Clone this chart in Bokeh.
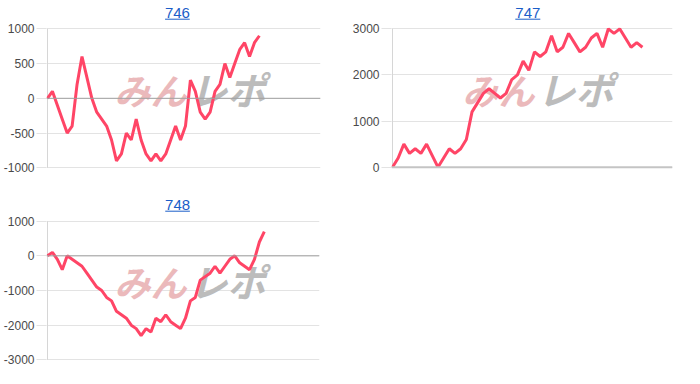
from bokeh.plotting import figure
from bokeh.models import Label, FixedTicker, Range1d, Span
from bokeh.layouts import row, column
from bokeh.embed import file_html
from bokeh.resources import INLINE

# Machine numbers and their running difference series
titles = ["746", "747", "748"]

diff_746 = [0, 100, -100, -300, -500, -400, 200, 600, 300, 0,
            -200, -300, -400, -600, -900, -800, -500, -600, -300, -600,
            -800, -900, -800, -900, -800, -600, -400, -600, -400, 260,
            100, -200, -300, -200, 100, 200, 500, 300, 500, 700,
            800, 600, 800, 900]

diff_747 = [0, 200, 500, 300, 400, 300, 500, 250, 0, 200,
            400, 300, 400, 600, 1200, 1400, 1600, 1700, 1600, 1500,
            1600, 1900, 2000, 2300, 2100, 2500, 2400, 2500, 2850, 2500,
            2600, 2900, 2700, 2500, 2600, 2800, 2900, 2600, 3000, 2900,
            3000, 2800, 2600, 2700, 2600]

diff_748 = [0, 100, -100, -400, 0, -100, -200, -300, -500, -700,
            -900, -1000, -1200, -1300, -1600, -1700, -1800, -2000, -2100, -2300,
            -2100, -2200, -1800, -1900, -1700, -1900, -2000, -2100, -1800, -1300,
            -1200, -700, -600, -500, -300, -500, -300, -100, 0, -200,
            -300, -400, -100, 400, 700]

ticks_746 = [-1000, -500, 0, 500, 1000]
ticks_747 = [0, 1000, 2000, 3000]
ticks_748 = [-3000, -2000, -1000, 0, 1000]

LINE_COLOR = "#ff4566"
LINK_COLOR = "#1a5dc8"
GRID_COLOR = "#e3e3e3"


def make_chart(title, values, ticks, W, H, x0_px, right_px, step_px,
               top_px, bottom_px, title_cx, wm_split, zero_line):
    """One small line chart. Pixel arguments are measured inside the cell."""
    y0, y1 = ticks[0], ticks[-1]
    upp = (y1 - y0) / (bottom_px - top_px)        # data units per pixel

    def X(px):
        return (px - x0_px) / step_px

    def Y(py):
        return y1 - (py - top_px) * upp

    left = int(x0_px - 1)
    right = int(W - right_px)
    bottom = int(round(H - bottom_px - 2))

    p = figure(width=W, height=H, output_backend="svg",
               toolbar_location=None,
               x_range=Range1d(X(left), X(W - right)),
               y_range=Range1d(Y(H - bottom), Y(0)),
               min_border_left=left, min_border_right=right,
               min_border_top=0, min_border_bottom=bottom,
               outline_line_color=None,
               background_fill_color="white", border_fill_color="white")

    p.xaxis.visible = False
    p.xgrid.visible = False

    ax = p.yaxis[0]
    ax.ticker = FixedTicker(ticks=ticks)
    ax.major_label_overrides = {t: str(t) for t in ticks}
    ax.axis_line_color = None
    ax.major_tick_out = 10
    ax.major_tick_in = 0
    ax.major_tick_line_color = GRID_COLOR
    ax.minor_tick_line_color = None
    ax.major_label_standoff = 2
    ax.major_label_text_font = "Liberation Sans"
    ax.major_label_text_font_size = "12px"
    ax.major_label_text_color = "#4a4a4a"

    p.ygrid.ticker = FixedTicker(ticks=ticks)
    p.ygrid.grid_line_color = GRID_COLOR
    p.ygrid.grid_line_width = 1

    # vertical axis line across the plotting band only
    p.segment(x0=[0], y0=[y0], x1=[0], y1=[y1], line_color="#d6d6d6",
              line_width=1)

    if zero_line:
        p.add_layout(Span(location=0, dimension="width",
                          line_color="#a0a0a0", line_width=1))
    else:
        p.add_layout(Span(location=y0, dimension="width",
                          line_color="#c4c4c4", line_width=2))

    # watermark behind the line
    p.add_layout(Label(x=X(wm_split - 1), y=Y(88), text="みん",
                       text_align="right", text_baseline="middle",
                       text_font="Noto Sans CJK JP",
                       text_font_style="bold italic", text_font_size="36px",
                       text_color="#ebb9bb", level="underlay"))
    p.add_layout(Label(x=X(wm_split + 2), y=Y(88), text="レポ",
                       text_align="left", text_baseline="middle",
                       text_font="Noto Sans CJK JP",
                       text_font_style="bold italic", text_font_size="38px",
                       text_color="#bcbcbc", level="underlay"))

    xs = list(range(len(values)))
    p.line(xs, values, line_color=LINE_COLOR, line_width=3)

    # linked title with underline
    p.add_layout(Label(x=X(title_cx), y=Y(12.0), text=title,
                       text_align="center", text_baseline="middle",
                       text_font="Liberation Sans", text_font_size="15px",
                       text_color=LINK_COLOR))
    p.segment(x0=[X(title_cx - 12.5)], y0=[Y(18.7)],
              x1=[X(title_cx + 12.5)], y1=[Y(18.7)],
              line_color=LINK_COLOR, line_width=1)
    return p


p1 = make_chart(titles[0], diff_746, ticks_746, 348, 192, 43, 320, 5.0,
                28.3, 167.3, 174.8, 185, True)
p2 = make_chart(titles[1], diff_747, ticks_747, 352, 192, 44, 324, 5.68,
                28.3, 166.7, 179.3, 187, False)
p3 = make_chart(titles[2], diff_748, ticks_748, 348, 192, 43, 319, 5.0,
                28.7, 167.3, 175, 185, True)

layout = column(row(p1, p2), row(p3))
open("out.html", "w").write(file_html(layout, INLINE))
